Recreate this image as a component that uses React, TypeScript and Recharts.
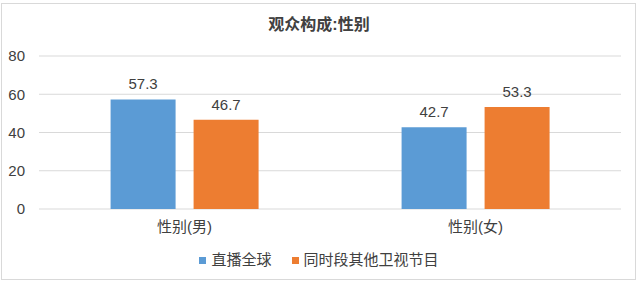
import React from 'react'
import { Bar, BarChart, CartesianGrid, LabelList, XAxis, YAxis } from 'recharts'

const categories = ['性别(男)', '性别(女)']
const liveGlobal = [57.3, 42.7]
const otherShows = [46.7, 53.3]
const yTicks = [0, 20, 40, 60, 80]

const seriesNames = ['直播全球', '同时段其他卫视节目']
const BLUE = '#5B9BD5'
const ORANGE = '#ED7D31'
const TEXT = '#404040'
const FONT = '"Liberation Sans", Arial, "Noto Sans CJK SC", sans-serif'

const data = categories.map((name, i) => ({ name, live: liveGlobal[i], other: otherShows[i] }))

function LegendBox() {
  const items = [
    { label: seriesNames[0], color: BLUE },
    { label: seriesNames[1], color: ORANGE },
  ]
  return (
    <div
      style={{
        position: 'absolute',
        top: 250,
        left: 0,
        width: 638,
        display: 'flex',
        justifyContent: 'center',
        gap: 20,
        fontSize: 15,
        lineHeight: '20px',
        color: TEXT,
      }}
    >
      {items.map((it) => (
        <div key={it.label} style={{ display: 'flex', alignItems: 'center', gap: 5 }}>
          <span style={{ width: 7, height: 7, background: it.color, display: 'inline-block' }} />
          <span>{it.label}</span>
        </div>
      ))}
    </div>
  )
}

export default function App() {
  return (
    <div style={{ position: 'absolute', left: 0, top: 0, width: 638, height: 283, background: '#fff', fontFamily: FONT }}>
      <div
        style={{
          position: 'absolute',
          left: 1,
          top: 3,
          width: 633,
          height: 275,
          border: '1px solid #d9d9d9',
        }}
      />
      <div
        style={{
          position: 'absolute',
          top: 15,
          left: 0,
          width: 638,
          textAlign: 'center',
          fontSize: 16,
          lineHeight: '20px',
          fontWeight: 'bold',
          color: TEXT,
        }}
      >
        观众构成:性别
      </div>
      <div style={{ position: 'absolute', left: 0, top: 0 }}>
        <BarChart
          width={638}
          height={283}
          data={data}
          margin={{ top: 56, right: 17, bottom: 44, left: 0 }}
          barGap={18}
          barCategoryGap="24.6%"
        >
          <CartesianGrid vertical={false} stroke="#d9d9d9" />
          <XAxis
            dataKey="name"
            axisLine={false}
            tickLine={false}
            height={30}
            tickMargin={6}
            tick={{ fontSize: 15, fill: TEXT, fontFamily: FONT }}
          />
          <YAxis
            width={39}
            domain={[0, 80]}
            ticks={yTicks}
            axisLine={false}
            tickLine={false}
            tickMargin={8}
            tick={{ fontSize: 15, fill: TEXT, fontFamily: FONT }}
          />
          <Bar dataKey="live" name={seriesNames[0]} fill={BLUE} isAnimationActive={false}>
            <LabelList dataKey="live" position="top" offset={10} style={{ fontSize: 15, fill: TEXT, fontFamily: FONT }} />
          </Bar>
          <Bar dataKey="other" name={seriesNames[1]} fill={ORANGE} isAnimationActive={false}>
            <LabelList dataKey="other" position="top" offset={10} style={{ fontSize: 15, fill: TEXT, fontFamily: FONT }} />
          </Bar>
        </BarChart>
      </div>
      <LegendBox />
    </div>
  )
}
